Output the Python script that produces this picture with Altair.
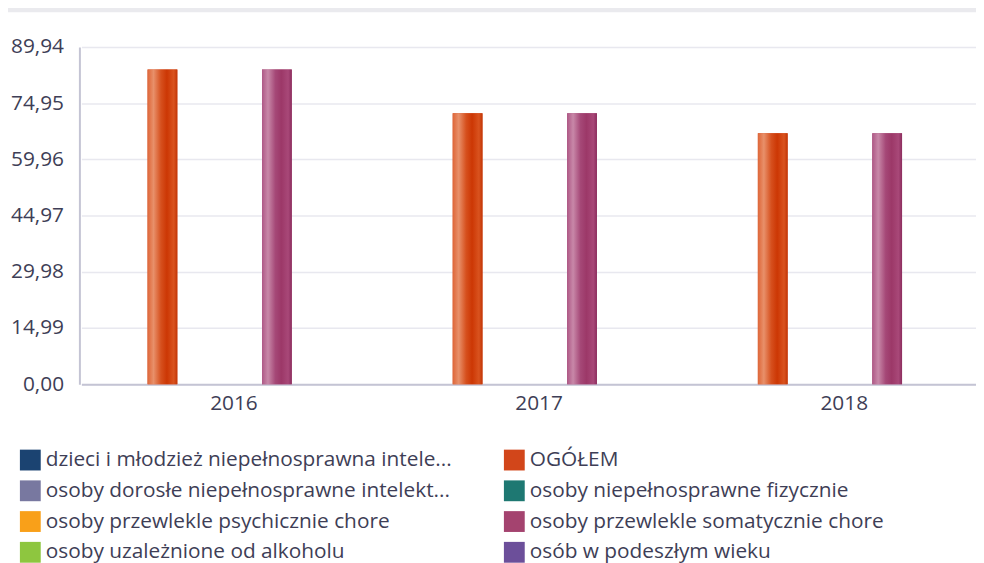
import altair as alt
import pandas as pd

years = ["2016", "2017", "2018"]
series = [
    "dzieci i młodzież niepełnosprawna intele...",
    "OGÓŁEM",
    "osoby dorosłe niepełnosprawne intelekt...",
    "osoby niepełnosprawne fizycznie",
    "osoby przewlekle psychicznie chore",
    "osoby przewlekle somatycznie chore",
    "osoby uzależnione od alkoholu",
    "osób w podeszłym wieku",
]
colors = ["#1B4371", "#D2461A", "#7878A0", "#1E7872",
          "#F9A019", "#A4436F", "#8EC63F", "#6C4F9A"]
ogolem = [83.96, 72.27, 66.96]
somatycznie = [83.96, 72.27, 66.96]
y_ticks = [0, 14.99, 29.98, 44.97, 59.96, 74.95, 89.94]

# legend is filled column by column: reorder so it reads row by row
legend_order = [series[i] for i in (0, 2, 4, 6, 1, 3, 5, 7)]
legend_colors = [colors[i] for i in (0, 2, 4, 6, 1, 3, 5, 7)]

rows = []
for i, y in enumerate(years):
    rows.append({"year": y, "series": "OGÓŁEM", "value": ogolem[i]})
    rows.append({"year": y, "series": "osoby przewlekle somatycznie chore", "value": somatycznie[i]})
df = pd.DataFrame(rows)

W, H = 904, 340
text_col = "#3E3E56"
font = "Open Sans"

x_enc = alt.X("year:N", scale=alt.Scale(domain=years, paddingInner=0.25, paddingOuter=0.125, range=[2, 925]),
              axis=alt.Axis(title=None, labelAngle=0, labelFontSize=21, labelColor=text_col, labelFont=font,
                            labelPadding=9, ticks=False, domainColor="#C4C4D4", domainWidth=2, grid=False))
xo_enc = alt.XOffset("series:N", scale=alt.Scale(domain=series, paddingInner=0, paddingOuter=0))
y_enc = alt.Y("value:Q", scale=alt.Scale(domain=[0, 89.94], nice=False, zero=True),
              axis=alt.Axis(title=None, values=y_ticks, labelFontSize=21, labelColor=text_col, labelFont=font,
                            labelExpr="replace(format(datum.value, '.2f'), '.', ',')",
                            labelPadding=16, ticks=False, domainColor="#C4C4D4", domainWidth=2,
                            gridColor="#E8E8EF", gridWidth=1.5))

base = alt.Chart(df).mark_bar(width=30).encode(
    x=x_enc, xOffset=xo_enc, y=y_enc,
    color=alt.Color("series:N", scale=alt.Scale(domain=legend_order, range=legend_colors),
                    legend=alt.Legend(title=None, orient="none", legendX=-60, legendY=406, columns=2,
                                      columnPadding=52, rowPadding=9, symbolType="square", symbolSize=441,
                                      symbolStrokeWidth=0, labelFontSize=21, labelColor=text_col, labelFont=font,
                                      labelOffset=5, labelLimit=600, padding=0)),
)

def grad(stops):
    return alt.LinearGradient(gradient="linear", x1=0, x2=1, y1=0, y2=0,
                              stops=[alt.GradientStop(color=c, offset=o) for o, c in stops])

orange = grad([(0, "#DE6638"), (0.2, "#E8906A"), (0.45, "#D6501E"), (0.65, "#CC3704"), (0.88, "#D9531F"), (1, "#C23505")])
purple = grad([(0, "#AE5886"), (0.2, "#C888A8"), (0.45, "#A54877"), (0.65, "#9C3868"), (0.88, "#A84878"), (1, "#8C2D5E")])

ov1 = alt.Chart(df).transform_filter(alt.datum.series == "OGÓŁEM").mark_bar(width=30, fill=orange).encode(
    x=x_enc, xOffset=xo_enc, y=y_enc)
ov2 = alt.Chart(df).transform_filter(alt.datum.series == "osoby przewlekle somatycznie chore").mark_bar(
    width=30, fill=purple).encode(x=x_enc, xOffset=xo_enc, y=y_enc)

band = alt.Chart(pd.DataFrame({"a": [0]})).mark_rect(color="#EAEAEE").encode(
    x=alt.value(-74), x2=alt.value(904), y=alt.value(-40), y2=alt.value(-35))

chart = alt.layer(base, ov1, ov2, band).properties(
    width=W, height=H,
    autosize=alt.AutoSizeParams(type="none"),
    padding={"left": 72, "top": 37, "right": 0, "bottom": 178},
).configure_view(stroke=None)

chart.save("out.html", embed_options={"renderer": "svg", "actions": False})
